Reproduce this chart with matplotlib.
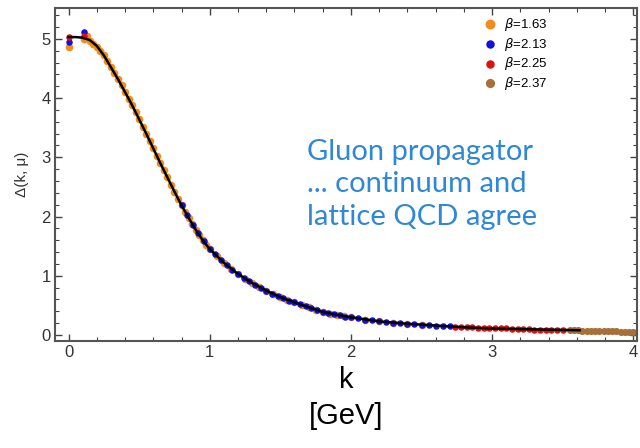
import matplotlib
matplotlib.use('Agg')
import matplotlib.pyplot as plt
from matplotlib.ticker import MultipleLocator

plt.rcParams['font.family'] = ['Liberation Sans', 'DejaVu Sans']

# continuum prediction for the gluon propagator
k_fit = [0.0, 0.05, 0.10, 0.15, 0.20, 0.25, 0.30, 0.35, 0.40, 0.45, 0.50,
         0.55, 0.60, 0.65, 0.70, 0.75, 0.80, 0.85, 0.90, 0.95, 1.00, 1.10,
         1.20, 1.30, 1.40, 1.50, 1.60, 1.70, 1.80, 1.90, 2.00, 2.20, 2.40,
         2.60, 2.80, 3.00, 3.20, 3.40, 3.62]
d_fit = [5.03, 5.03, 5.02, 4.98, 4.88, 4.72, 4.52, 4.32, 4.10, 3.88, 3.64,
         3.40, 3.15, 2.90, 2.66, 2.42, 2.19, 1.98, 1.78, 1.60, 1.45, 1.22,
         1.03, 0.88, 0.75, 0.64, 0.55, 0.47, 0.39, 0.34, 0.30, 0.23, 0.19,
         0.16, 0.13, 0.11, 0.10, 0.09, 0.08]

# lattice data, one set per beta
k_163 = [0.0, 0.11, 0.13, 0.150, 0.175, 0.200, 0.225, 0.250, 0.275, 0.300,
         0.325, 0.350, 0.375, 0.400, 0.425, 0.450, 0.475, 0.500, 0.525,
         0.550, 0.575, 0.600, 0.625, 0.650, 0.675, 0.700, 0.725, 0.750,
         0.775, 0.800, 0.825, 0.850, 0.875, 0.900, 0.925, 0.950, 0.975,
         1.00, 1.05, 1.10, 1.15, 1.20, 1.25, 1.30, 1.35, 1.40, 1.45, 1.50,
         1.55, 1.60, 1.65, 1.70, 1.75, 1.80, 1.85, 1.90, 1.95, 2.00, 2.10,
         2.20, 2.30, 2.40, 2.50]
d_163 = [4.86, 5.00, 5.04, 4.96, 4.92, 4.86, 4.80, 4.72, 4.63, 4.53,
         4.43, 4.33, 4.22, 4.11, 3.99, 3.88, 3.76, 3.64, 3.52,
         3.40, 3.27, 3.15, 3.02, 2.90, 2.78, 2.66, 2.54, 2.42,
         2.30, 2.19, 2.08, 1.98, 1.88, 1.78, 1.69, 1.60, 1.52,
         1.45, 1.33, 1.22, 1.12, 1.03, 0.95, 0.88, 0.81, 0.75, 0.69, 0.64,
         0.59, 0.55, 0.51, 0.47, 0.43, 0.39, 0.36, 0.34, 0.32, 0.30, 0.26,
         0.23, 0.21, 0.19, 0.17]

k_213 = [0.0, 0.11, 0.80, 0.84, 0.88, 0.92, 0.96, 1.00, 1.04, 1.08, 1.12,
         1.16, 1.20, 1.24, 1.28, 1.32, 1.36, 1.40, 1.44, 1.48, 1.52, 1.56,
         1.60, 1.64, 1.68, 1.72, 1.76, 1.80, 1.84, 1.88, 1.92, 1.96, 2.00,
         2.05, 2.10, 2.15, 2.20, 2.25, 2.30, 2.35, 2.40, 2.45, 2.50, 2.55,
         2.60, 2.65, 2.70]
d_213 = [4.95, 5.12, 2.19, 2.02, 1.86, 1.73, 1.59, 1.45, 1.36, 1.26, 1.18,
         1.10, 1.03, 0.97, 0.91, 0.85, 0.80, 0.75, 0.70, 0.66, 0.62, 0.58,
         0.55, 0.52, 0.49, 0.45, 0.42, 0.39, 0.37, 0.35, 0.33, 0.31, 0.30,
         0.28, 0.26, 0.25, 0.23, 0.22, 0.21, 0.20, 0.19, 0.18, 0.17, 0.17,
         0.16, 0.15, 0.15]

k_225 = [0.0, 0.11, 2.74, 2.78, 2.82, 2.86, 2.90, 2.94, 2.98, 3.02, 3.06,
         3.10, 3.14, 3.18, 3.22, 3.26, 3.30, 3.34, 3.38, 3.42, 3.46, 3.50]
d_225 = [5.03, 5.05, 0.14, 0.14, 0.13, 0.13, 0.12, 0.12, 0.12, 0.11, 0.11,
         0.11, 0.10, 0.10, 0.10, 0.10, 0.09, 0.09, 0.09, 0.09, 0.09, 0.08]

k_237 = [3.55, 3.58, 3.61, 3.64, 3.67, 3.70, 3.73, 3.76, 3.79, 3.82, 3.85,
         3.88, 3.91, 3.94, 3.97, 4.00]
d_237 = [0.08, 0.08, 0.08, 0.07, 0.07, 0.07, 0.07, 0.06, 0.06, 0.06, 0.06,
         0.06, 0.05, 0.05, 0.05, 0.05]

fig = plt.figure(figsize=(6.4, 4.48), dpi=100)
ax = fig.add_axes([0.086, 0.239, 0.909, 0.743])

ax.scatter(k_163, d_163, s=30, color='#F28C1E', lw=0, zorder=2, label=r'$\beta$=1.63')
ax.scatter(k_213, d_213, s=22, color='#1010E0', lw=0, zorder=3, label=r'$\beta$=2.13')
ax.scatter(k_225, d_225, s=22, color='#E01010', lw=0, zorder=3, label=r'$\beta$=2.25')
ax.scatter(k_237, d_237, s=26, color='#A86F38', lw=0, zorder=2, label=r'$\beta$=2.37')
ax.plot(k_fit, d_fit, color='black', lw=1.8, zorder=4)

ax.set_xlim(-0.096, 4.025)
ax.set_ylim(-0.10, 5.52)

ax.xaxis.set_major_locator(MultipleLocator(1))
ax.xaxis.set_minor_locator(MultipleLocator(0.2))
ax.yaxis.set_major_locator(MultipleLocator(1))
ax.yaxis.set_minor_locator(MultipleLocator(0.2))
ax.tick_params(which='both', direction='in', top=True, right=True,
               colors='#444444', labelcolor='#333333')
ax.tick_params(which='major', length=5, width=1, labelsize=12, pad=3)
ax.tick_params(which='minor', length=3, width=0.8)
for s in ax.spines.values():
    s.set_color('#555555')
    s.set_linewidth(1.5)

ax.set_ylabel('Δ(k, μ)', fontsize=11, color='#333333', labelpad=9)
ax.set_xlabel('k\n[GeV]', fontsize=21, labelpad=4, linespacing=1.36)

ax.legend(loc='upper right', bbox_to_anchor=(0.872, 1.02), frameon=False,
          fontsize=9.5, handletextpad=0.1, labelspacing=0.2, markerscale=1.3,
          borderpad=0.6)

ax.text(0.433, 0.47, 'Gluon propagator\n... continuum and\nlattice QCD agree',
        transform=ax.transAxes, fontsize=21, color='#2E88D6', family='Lato',
        va='center', ha='left', linespacing=1.3)

fig.savefig('out.png', dpi=100)
